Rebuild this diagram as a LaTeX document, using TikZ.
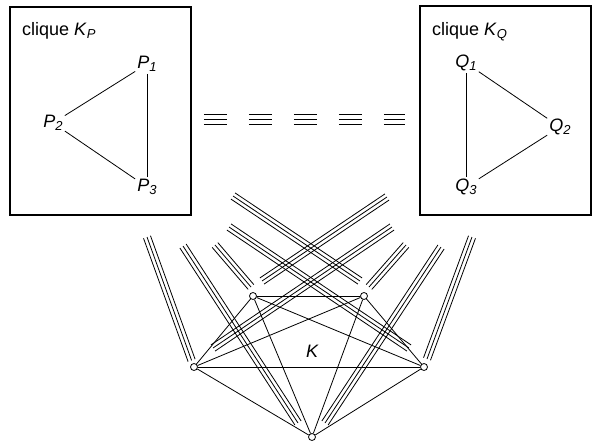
\documentclass[tikz,border=0pt]{standalone}
\usepackage{fontspec}
\setmainfont{Liberation Sans}
\usetikzlibrary{calc}

\newcommand\lidx[1]{\raisebox{-3pt}{\fontsize{13}{13}\selectfont\itshape #1}}
% three parallel lines between two points
\newcommand\bundle[2]{%
  \foreach \o in {-3.7pt,0pt,3.7pt}
    \draw[link] ($(#1)!\o!90:(#2)$) -- ($(#2)!\o!-90:(#1)$);}

\begin{document}
\begin{tikzpicture}[
    x=1pt, y=-1pt,
    every node/.style={font=\fontsize{18}{21}\selectfont},
    cliquebox/.style={draw, line width=1.7pt, inner sep=0pt},
    lbl/.style={inner sep=2pt, font=\fontsize{18}{21}\selectfont\itshape},
    vtx/.style={draw, circle, fill=white, inner sep=0pt, minimum size=7pt, line width=0.8pt},
    link/.style={line width=0.8pt},
    tripdash/.style={line width=0.9pt, dash pattern=on 23pt off 22pt}
]
\useasboundingbox (0,0) rectangle (592,442);

% the two cliques
\node[cliquebox, minimum width=181pt, minimum height=208pt] (KP) at (100.5,111) {};
\node[cliquebox, minimum width=171pt, minimum height=209pt] (KQ) at (505.5,110.5) {};
\node[anchor=base west, inner sep=0pt] (tP) at (22,35) {clique \textit{K}\lidx{P}};
\node[anchor=base west, inner sep=0pt] (tQ) at (432,35) {clique \textit{K}\lidx{Q}};

\node[lbl] (P1) at (147,64) {P\lidx{1}};
\node[lbl] (P2) at (53,123) {P\lidx{2}};
\node[lbl] (P3) at (147,187) {P\lidx{3}};
\node[lbl] (Q1) at (466,63) {Q\lidx{1}};
\node[lbl] (Q2) at (560,127) {Q\lidx{2}};
\node[lbl] (Q3) at (466,187) {Q\lidx{3}};

\draw[link] (P2) -- (P1);
\draw[link] (P2) -- (P3);
\draw[link] (P1) -- (P3);
\draw[link] (Q1) -- (Q2);
\draw[link] (Q3) -- (Q2);
\draw[link] (Q1) -- (Q3);

% dashed triple line between the cliques
\coordinate (dl) at ($(KP.east)+(12,8)$);
\coordinate (dr) at ($(KQ.west)+(-14,8.5)$);
\foreach \o in {-5,0,5}
  \draw[tripdash] ($(dl)+(0,\o)$) -- ($(dr)+(0,\o)$);

% the clique K
\node[vtx] (A) at (253,296) {};
\node[vtx] (B) at (364,296) {};
\node[vtx] (C) at (194,367) {};
\node[vtx] (D) at (424,367) {};
\node[vtx] (E) at (312,437) {};
\node[lbl] (K) at (312,351) {K};

\foreach \a/\b in {A/B,A/C,A/D,A/E,B/C,B/D,B/E,C/D,C/E,D/E}
  \draw[link] (\a) -- (\b);

% bundles towards the cliques
\foreach \s/\xa/\ya/\xb/\yb in {
    Cl/191.6/360.4/147/237, El/298/423/183/246, Al/251/287/215/245,
    Bl/360/281/233/196, Dl/409/348/229/227,
    Dr/427/359/472/237, Er/325/423/441/247, Br/369/287/406/245,
    Ar/262/281/387/197, Cr/213/348/392/227}
{
  \coordinate (\s0) at (\xa,\ya);
  \coordinate (\s1) at (\xb,\yb);
  \bundle{\s0}{\s1}
}
\end{tikzpicture}
\end{document}
